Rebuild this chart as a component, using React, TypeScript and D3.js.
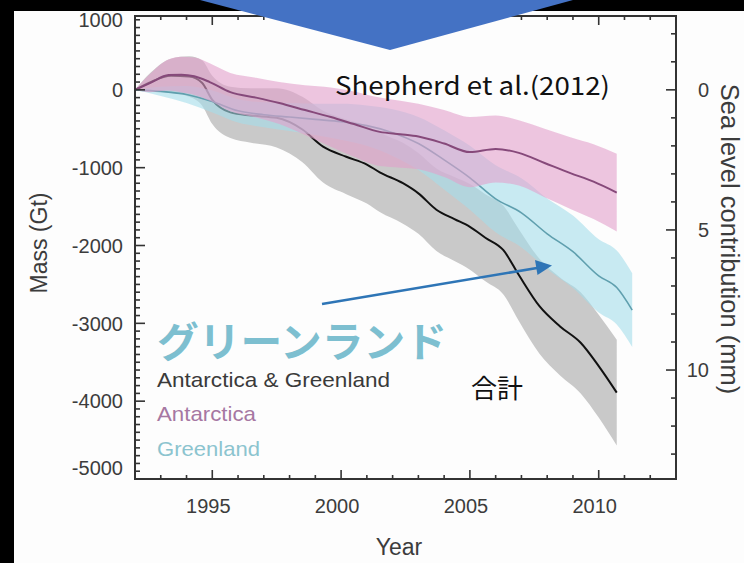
import React from 'react';
import * as d3 from 'd3';

const W = 744;
const H = 563;

// Antarctica (purple)
const antYears = [1992.0, 1992.6, 1993.3, 1993.8, 1994.3, 1994.9, 1995.7, 1996.7, 1997.6, 1998.6, 1999.6, 2000.5, 2001.5, 2002.3, 2003.0, 2004.0, 2005.0, 2006.0, 2006.9, 2007.9, 2008.9, 2009.8, 2010.7];
const antMass = [0, 90, 190, 195, 175, 100, -30, -100, -170, -260, -350, -440, -540, -570, -600, -690, -800, -760, -810, -940, -1070, -1180, -1320];
const antErr = [0, 120, 200, 230, 240, 240, 245, 255, 270, 320, 380, 420, 440, 430, 420, 430, 450, 430, 420, 440, 460, 480, 500];

// Antarctica & Greenland (black)
const totYears = [1992.0, 1992.6, 1993.4, 1994.1, 1994.6, 1995.0, 1995.7, 1996.5, 1997.5, 1998.5, 1999.3, 2000.2, 2001.0, 2001.5, 2002.4, 2003.0, 2003.7, 2004.4, 2005.0, 2005.6, 2006.3, 2006.9, 2007.7, 2008.5, 2009.3, 2010.0, 2010.7];
const totMass = [0, 100, 180, 170, 90, -130, -290, -330, -360, -510, -730, -860, -960, -1060, -1200, -1330, -1540, -1660, -1760, -1900, -2060, -2380, -2780, -3040, -3250, -3550, -3890];
const totErr = [0, 120, 220, 260, 290, 310, 330, 350, 380, 420, 460, 480, 500, 510, 520, 520, 530, 540, 550, 560, 570, 590, 610, 630, 650, 660, 680];

// Greenland (teal)
const grnYears = [1992.0, 1993.0, 1994.0, 1995.0, 1996.0, 1997.0, 1998.0, 1999.0, 2000.0, 2001.0, 2002.0, 2003.0, 2004.0, 2005.0, 2006.0, 2007.0, 2008.0, 2009.0, 2010.0, 2010.7, 2011.3];
const grnMass = [0, -20, -60, -150, -270, -320, -350, -380, -410, -460, -550, -690, -900, -1130, -1400, -1580, -1850, -2080, -2390, -2540, -2830];
const grnErr = [0, 60, 110, 140, 150, 160, 180, 200, 230, 260, 300, 340, 380, 410, 430, 445, 455, 465, 470, 475, 475];

const massTicks = [1000, 0, -1000, -2000, -3000, -4000, -5000];
const mmTicks = [0, 5, 10];
const yearTicks = [1995, 2000, 2005, 2010];
const legendLabels = ['Antarctica & Greenland', 'Antarctica', 'Greenland'];
const GT_PER_MM = 360;

type Pt = { year: number; m: number; e: number };
const zip = (ys: number[], ms: number[], es: number[]): Pt[] => ys.map((y, i) => ({ year: y, m: ms[i], e: es[i] }));

export default function App() {
  const L = 135, R = 676, T = 16, B = 479;
  const x = d3.scaleLinear().domain([1992, 2013]).range([L, R]);
  const y = d3.scaleLinear().domain([-5000, 1000]).range([B, 12]);
  const yMM = (mm: number) => y(-mm * GT_PER_MM);

  const area = d3.area<Pt>()
    .x(d => x(d.year))
    .y0(d => y(d.m - d.e))
    .y1(d => y(d.m + d.e))
    .curve(d3.curveMonotoneX);
  const line = d3.line<Pt>()
    .x(d => x(d.year))
    .y(d => y(d.m))
    .curve(d3.curveMonotoneX);

  const ant = zip(antYears, antMass, antErr);
  const tot = zip(totYears, totMass, totErr);
  const grn = zip(grnYears, grnMass, grnErr);

  const font = 'Liberation Sans, Arial, Helvetica, sans-serif';
  const axisCol = '#333';
  const labCol = '#3c3c3c';

  const massMinor = d3.range(-5000, 1001, 100).filter(v => y(v) >= T - 0.5);
  const mmMinor = d3.range(-2, 14, 1).filter(v => yMM(v) >= T && yMM(v) <= B);
  const yearMinor = d3.range(1993, 2013, 1);

  return (
    <div style={{ position: 'absolute', left: 0, top: 0, width: W, height: H }}>
      <svg width={W} height={H} style={{ display: 'block' }}>
        <rect x={0} y={0} width={W} height={H} fill="#fdfdfd" />
        <rect x={0} y={0} width={W} height={11} fill="#000" />
        <rect x={0} y={0} width={14} height={H} fill="#000" />
        <defs>
          <clipPath id="plotClip">
            <rect x={L} y={T} width={R - L} height={B - T} />
          </clipPath>
        </defs>
        <g clipPath="url(#plotClip)">
          <path d={area(tot) || ''} fill="#c9c9c9" />
          <path d={line(tot) || ''} fill="none" stroke="#111" strokeWidth={2} />
          <path d={area(grn) || ''} fill="rgb(165,222,235)" fillOpacity={0.6} />
          <path d={line(grn) || ''} fill="none" stroke="#5f9fae" strokeWidth={1.6} />
          <path d={area(ant) || ''} fill="rgb(226,160,203)" fillOpacity={0.6} />
          <path d={line(ant) || ''} fill="none" stroke="#86497a" strokeWidth={2} />
        </g>

        {/* frame */}
        <rect x={L} y={T} width={R - L} height={B - T} fill="none" stroke={axisCol} strokeWidth={2} />

        {/* left ticks */}
        {massMinor.map(v => (
          <line key={'lm' + v} x1={L} x2={L + (v % 1000 === 0 ? 10 : 5)} y1={y(v)} y2={y(v)} stroke={axisCol} strokeWidth={1.6} />
        ))}
        {massTicks.map(v => (
          <text key={'lt' + v} x={123} y={Math.min(Math.max(y(v), T + 4), B - 11)} dy="0.36em" textAnchor="end" fontFamily={font} fontSize={20} fill={labCol}>{v}</text>
        ))}

        {/* right ticks */}
        {mmMinor.map(v => (
          <line key={'rm' + v} x1={R} x2={R - (v % 5 === 0 ? 10 : 5)} y1={yMM(v)} y2={yMM(v)} stroke={axisCol} strokeWidth={1.6} />
        ))}
        {mmTicks.map(v => (
          <text key={'rt' + v} x={709} y={yMM(v)} dy="0.36em" textAnchor="end" fontFamily={font} fontSize={20} fill={labCol}>{v}</text>
        ))}

        {/* bottom & top ticks */}
        {yearMinor.map(v => (
          <g key={'ym' + v}>
            <line x1={x(v)} x2={x(v)} y1={B} y2={B - (v % 5 === 0 ? 9 : 4)} stroke={axisCol} strokeWidth={1.6} />
            <line x1={x(v)} x2={x(v)} y1={T} y2={T + (v % 5 === 0 ? 9 : 4)} stroke={axisCol} strokeWidth={1.6} />
          </g>
        ))}
        {yearTicks.map(v => (
          <text key={'yt' + v} x={x(v) - 4} y={513} textAnchor="middle" fontFamily={font} fontSize={20} fill={labCol}>{v}</text>
        ))}

        {/* axis titles */}
        <text x={399} y={555} textAnchor="middle" fontFamily={font} fontSize={23} fill={labCol}>Year</text>
        <text transform="translate(47,243) rotate(-90)" textAnchor="middle" fontFamily={font} fontSize={23} fill={labCol}>Mass (Gt)</text>
        <text transform="translate(721,239) rotate(90)" textAnchor="middle" fontFamily={font} fontSize={25.5} fill={labCol}>Sea level contribution (mm)</text>

        {/* legend */}
        <text x={157} y={387} fontFamily={font} fontSize={21} fill="#3a3a3a" textLength={233} lengthAdjust="spacingAndGlyphs">{legendLabels[0]}</text>
        <text x={157} y={421} fontFamily={font} fontSize={21} fill="#a677a2" textLength={99} lengthAdjust="spacingAndGlyphs">{legendLabels[1]}</text>
        <text x={157} y={456} fontFamily={font} fontSize={21} fill="#8cc4cf" textLength={103} lengthAdjust="spacingAndGlyphs">{legendLabels[2]}</text>

        {/* annotations */}
        <text x={157} y={357} fontFamily="Noto Sans CJK JP, sans-serif" fontWeight={700} fontSize={41} fill="#7dbfd0" textLength={290} lengthAdjust="spacingAndGlyphs">グリーンランド</text>
        <text x={471} y={398} fontFamily="Noto Sans CJK JP, sans-serif" fontSize={26} fill="#111">合計</text>
        <text x={335} y={95} fontFamily="Noto Sans CJK JP, sans-serif" fontSize={25} fill="#111" textLength={275} lengthAdjust="spacingAndGlyphs">Shepherd et al.(2012)</text>

        {/* arrow */}
        <line x1={322} y1={304} x2={540} y2={267.5} stroke="#2e75b6" strokeWidth={2.5} />
        <polygon points="552,265.5 535,260 537.5,275" fill="#2e75b6" />

        {/* blue chevron */}
        <polygon points="200,0 573,0 390,50" fill="#4472c4" />
      </svg>
    </div>
  );
}
